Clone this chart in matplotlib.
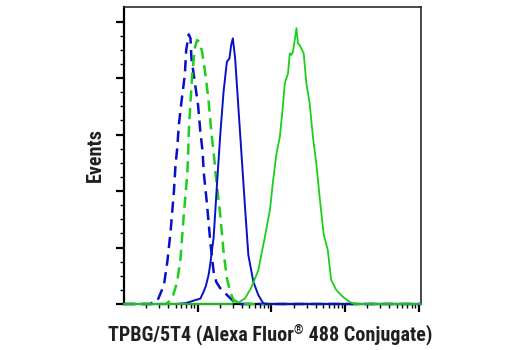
import numpy as np
import matplotlib
matplotlib.use("Agg")
import matplotlib.pyplot as plt
from matplotlib import font_manager
from matplotlib.ticker import FixedLocator, LogLocator, NullFormatter

# histogram traces: log10(fluorescence) and % of max events
bd_log = [1.363, 1.385, 1.453, 1.542, 1.588, 1.632, 1.677, 1.699, 1.722, 1.744,
          1.780, 1.825, 1.844, 1.879, 1.902, 1.915, 1.960, 2.005, 2.036, 2.067,
          2.081, 2.127, 2.171, 2.216, 2.252, 2.306, 2.373, 2.468, 2.549]
bd_cnt = [0, 0.6, 1.1, 6.7, 15.0, 25.6, 39.8, 49.2, 55.1, 63.4,
          71.7, 81.1, 90.0, 95.5, 94.1, 87.0, 78.7, 70.5, 61.0, 53.9,
          46.9, 35.1, 22.1, 11.4, 7.8, 5.6, 3.8, 1.4, 0]

gd_log = [1.565, 1.610, 1.655, 1.722, 1.767, 1.811, 1.857, 1.868, 1.879, 1.902,
          1.925, 1.960, 1.992, 2.023, 2.059, 2.113, 2.148, 2.185, 2.229, 2.239,
          2.306, 2.351, 2.396, 2.441, 2.485, 2.531, 2.575]
gd_cnt = [0, 0.8, 2.0, 7.9, 16.2, 31.5, 45.7, 51.0, 61.0, 71.7,
          81.1, 90.6, 93.5, 92.8, 89.4, 79.9, 71.7, 61.0, 50.4, 46.9,
          31.5, 18.5, 9.1, 4.4, 1.4, 0.8, 0]

bs_log = [1.699, 1.834, 1.969, 2.036, 2.081, 2.111, 2.148, 2.171, 2.194, 2.216,
          2.261, 2.306, 2.351, 2.396, 2.431, 2.454, 2.477, 2.508, 2.553, 2.598,
          2.643, 2.687, 2.755, 2.822, 2.889, 2.925]
bs_cnt = [0, 0.25, 1.4, 1.9, 4.4, 6.4, 10.3, 14.2, 19.1, 23.4,
          42.1, 59.9, 75.2, 85.8, 87.0, 91.7, 94.1, 87.0, 69.3, 51.6,
          33.9, 17.4, 7.9, 3.2, 0.25, 0]

gs_log = [2.466, 2.493, 2.553, 2.643, 2.733, 2.822, 2.912, 2.980, 3.024, 3.070,
          3.115, 3.151, 3.182, 3.226, 3.249, 3.272, 3.294, 3.340, 3.361, 3.384,
          3.438, 3.474, 3.519, 3.563, 3.609, 3.654, 3.708, 3.765, 3.811, 3.879,
          3.968, 4.058, 4.125]
gs_cnt = [0, 1.4, 0.5, 2.0, 6.1, 12.0, 23.8, 33.3, 43.9, 53.4,
          59.3, 68.7, 78.2, 81.7, 88.8, 88.2, 89.4, 97.7, 92.3, 91.7,
          88.8, 78.2, 71.1, 59.3, 49.8, 38.0, 25.0, 19.1, 8.5, 5.0,
          2.6, 0.8, 0]

XMIN, XMAX = 10, 10 ** 5.03
YMAX = 105.2

BLUE = "#0a0fc8"
GREEN = "#1ccf1c"
TEXT = "#231f20"

# prefer a condensed face for the axis titles if one is installed
names = {f.name for f in font_manager.fontManager.ttflist}
narrow = [n for n in ("Liberation Sans Narrow", "DejaVu Sans Condensed", "Roboto Condensed")
          if n in names]
plt.rcParams["font.family"] = narrow + ["Liberation Sans", "DejaVu Sans"]

fig = plt.figure(figsize=(5.2, 3.5), dpi=100, facecolor="white")
ax = fig.add_axes([124 / 520, 46 / 350, 297 / 520, 297 / 350])


def trace(lx, cnt, color, dashed, lw):
    # pad each trace with zeros out to the axis limits
    x = np.concatenate([[XMIN], 10 ** np.asarray(lx), [XMAX]])
    y = np.concatenate([[0], cnt, [0]])
    ls = (0, (4.5, 2.6)) if dashed else "-"
    ax.plot(x, y, color=color, lw=lw, ls=ls, clip_on=False, zorder=3,
            solid_joinstyle="round")


trace(bd_log, bd_cnt, BLUE, True, 1.8)
trace(gd_log, gd_cnt, GREEN, True, 1.8)
trace(bs_log, bs_cnt, BLUE, False, 1.4)
trace(gs_log, gs_cnt, GREEN, False, 1.3)

ax.set_xscale("log")
ax.set_xlim(XMIN, XMAX)
ax.set_ylim(0, YMAX)

ax.xaxis.set_major_locator(FixedLocator([1e2, 1e3, 1e4, 1e5]))
ax.xaxis.set_minor_locator(LogLocator(base=10, subs=np.arange(2, 10), numticks=20))
ax.xaxis.set_major_formatter(NullFormatter())
ax.xaxis.set_minor_formatter(NullFormatter())
ax.yaxis.set_major_locator(FixedLocator(np.arange(0, 101, 20)))
ax.yaxis.set_minor_locator(FixedLocator(np.arange(5, 100, 5)))
ax.yaxis.set_major_formatter(NullFormatter())

ax.tick_params(which="major", direction="out", length=6, width=1.6, color="black")
ax.tick_params(which="minor", direction="out", length=3, width=1.0, color="black")
ax.tick_params(top=False, right=False)

for side in ("left", "bottom"):
    ax.spines[side].set_linewidth(1.6)
    ax.spines[side].set_color("black")
for side in ("top", "right"):
    ax.spines[side].set_linewidth(1.2)
    ax.spines[side].set_color("#2a2a2a")

fs = 14.5 if narrow else 12.2
# assemble the x label in three pieces so the ® sits as a small superscript
fig.canvas.draw()
r = fig.canvas.get_renderer()
parts = [("TPBG/5T4 (Alexa Fluor", fs, 0), ("®", fs * 0.6, 6.5), (" 488 Conjugate)", fs, 0)]
widths = []
for s, size, _ in parts:
    t = fig.text(0, 0, s, fontsize=size, fontweight="bold")
    widths.append(t.get_window_extent(r).width)
    t.remove()
x0 = 270 - sum(widths) / 2
for (s, size, dy), w in zip(parts, widths):
    fig.text(x0 / 520, (10 + dy) / 350, s, ha="left", va="baseline",
             fontsize=size, fontweight="bold", color=TEXT)
    x0 += w

fig.text(95 / 520, 1 - 155.5 / 350, "Events", rotation=90, ha="center", va="center",
         fontsize=fs, fontweight="bold", color=TEXT)

fig.savefig("out.png", dpi=100, facecolor="white")
